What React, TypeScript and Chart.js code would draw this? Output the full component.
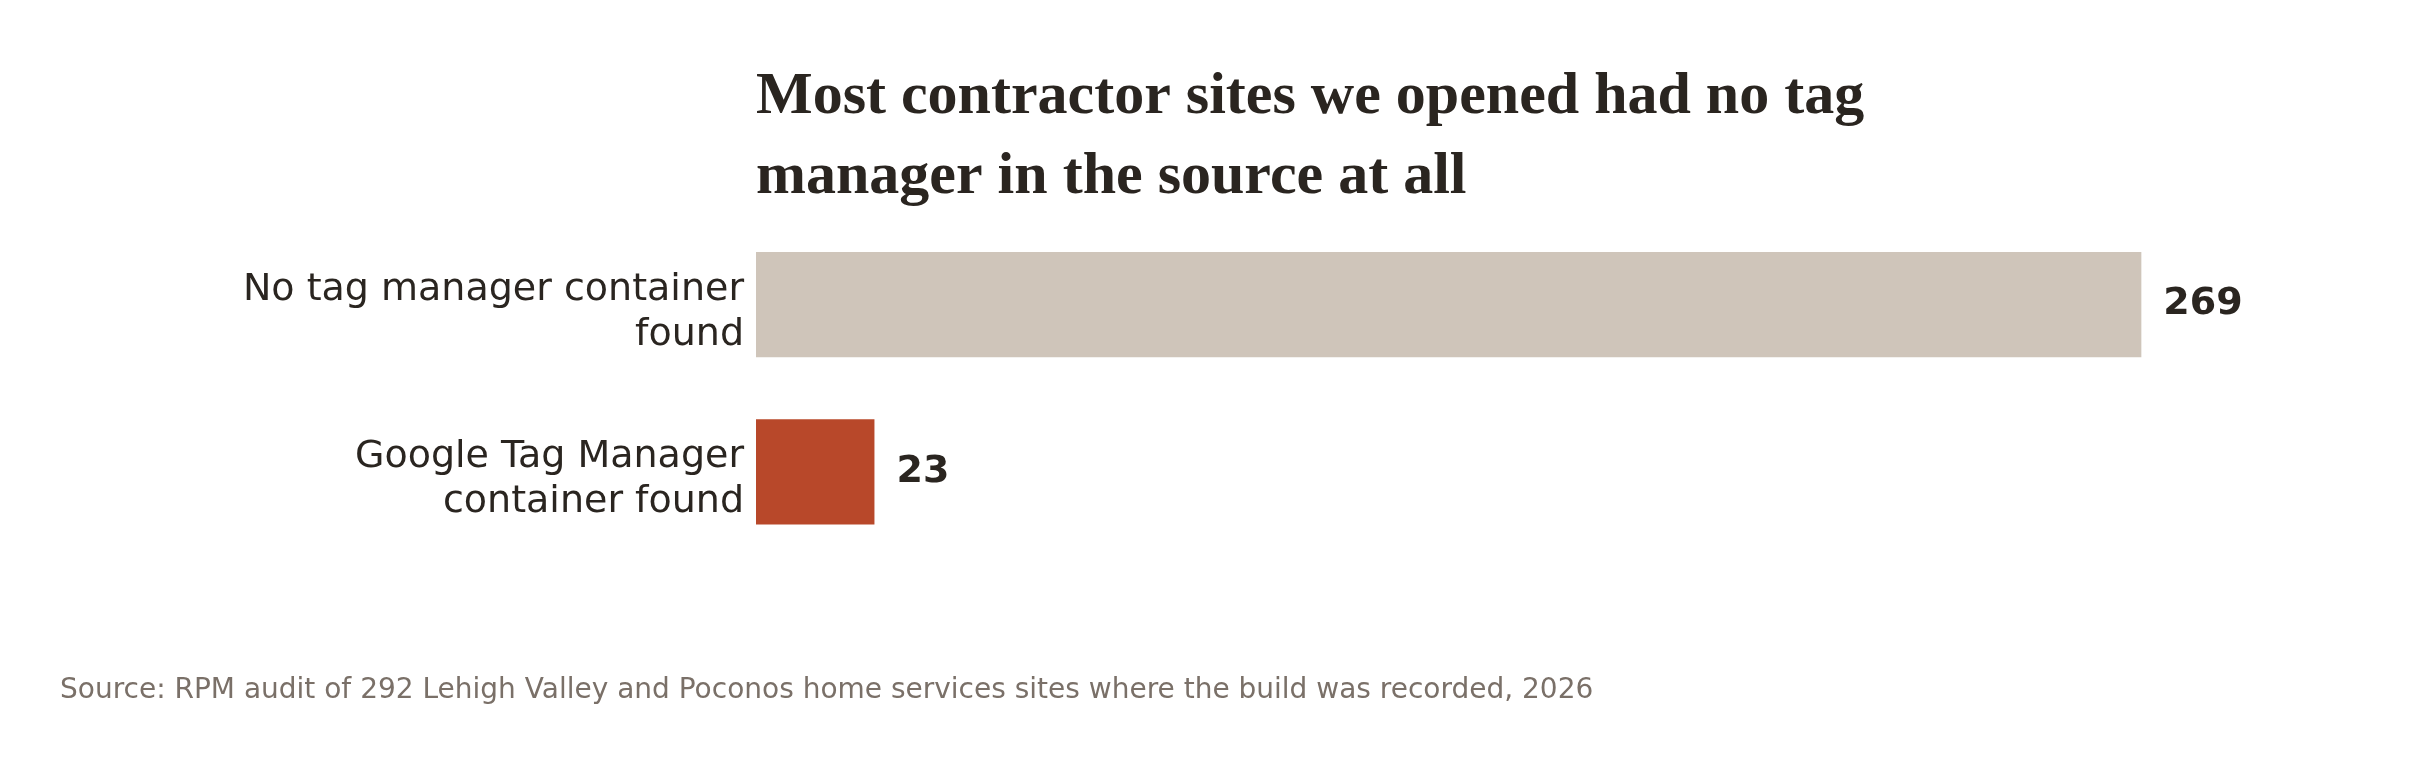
import { useEffect, useRef } from "react";
import { Chart, registerables, Plugin } from "chart.js";

Chart.register(...registerables);

// 資料
const categories: string[][] = [
  ["No tag manager container", "found"],
  ["Google Tag Manager", "container found"],
];
const siteCounts: number[] = [269, 23];
const barColors: string[] = ["#cfc5ba", "#b8482a"];
const titleLines: string[] = [
  "Most contractor sites we opened had no tag",
  "manager in the source at all",
];
const sourceNote =
  "Source: RPM audit of 292 Lehigh Valley and Poconos home services sites where the build was recorded, 2026";

const INK = "#2a2520";

// 在長條末端畫數值
const valueLabels: Plugin<"bar"> = {
  id: "valueLabels",
  afterDatasetsDraw(chart) {
    const { ctx } = chart;
    const meta = chart.getDatasetMeta(0);
    ctx.save();
    ctx.font = "bold 38px 'DejaVu Sans'";
    ctx.fillStyle = INK;
    ctx.textAlign = "left";
    ctx.textBaseline = "middle";
    meta.data.forEach((bar, i) => {
      ctx.fillText(String(siteCounts[i]), bar.x + 22, bar.y);
    });
    ctx.restore();
  },
};

export default function App() {
  const canvasRef = useRef<HTMLCanvasElement>(null);
  const chartRef = useRef<Chart<"bar"> | null>(null);

  useEffect(() => {
    if (!canvasRef.current) return;
    if (chartRef.current) {
      chartRef.current.destroy();
      chartRef.current = null;
    }
    const ctx = canvasRef.current.getContext("2d");
    if (!ctx) return;

    chartRef.current = new Chart(ctx, {
      type: "bar",
      data: {
        labels: categories,
        datasets: [
          {
            data: siteCounts,
            backgroundColor: barColors,
            borderWidth: 0,
            barPercentage: 0.63,
            categoryPercentage: 1,
          },
        ],
      },
      options: {
        indexAxis: "y",
        animation: false,
        responsive: true,
        maintainAspectRatio: false,
        layout: {
          padding: { left: 60, right: 123, top: 0, bottom: 44 },
        },
        plugins: {
          legend: { display: false },
          tooltip: { enabled: false },
          title: {
            display: true,
            text: titleLines,
            align: "start",
            fullSize: false,
            color: INK,
            font: { family: "'Liberation Serif'", weight: "bold", size: 60, lineHeight: 80 / 60 },
            padding: { top: 57, bottom: 4 },
          },
          subtitle: {
            display: true,
            position: "bottom",
            text: sourceNote,
            align: "start",
            fullSize: true,
            color: "#7a7068",
            font: { family: "'DejaVu Sans'", size: 28, lineHeight: 1.2 },
            padding: { top: 119, bottom: 12 },
          },
        },
        scales: {
          x: {
            display: false,
            min: 0,
            max: 300,
          },
          y: {
            grid: { display: false, drawTicks: false },
            border: { display: false },
            ticks: {
              color: INK,
              font: { family: "'DejaVu Sans'", size: 38, lineHeight: 1.18 },
              padding: 12,
              labelOffset: 8,
            },
            afterFit(scale) {
              scale.width = 696;
            },
          },
        },
      },
      plugins: [valueLabels],
    });

    return () => {
      if (chartRef.current) {
        chartRef.current.destroy();
        chartRef.current = null;
      }
    };
  }, []);

  return (
    <div style={{ position: "absolute", left: 0, top: 0, width: 2424, height: 764, background: "#ffffff" }}>
      <canvas ref={canvasRef}></canvas>
    </div>
  );
}
